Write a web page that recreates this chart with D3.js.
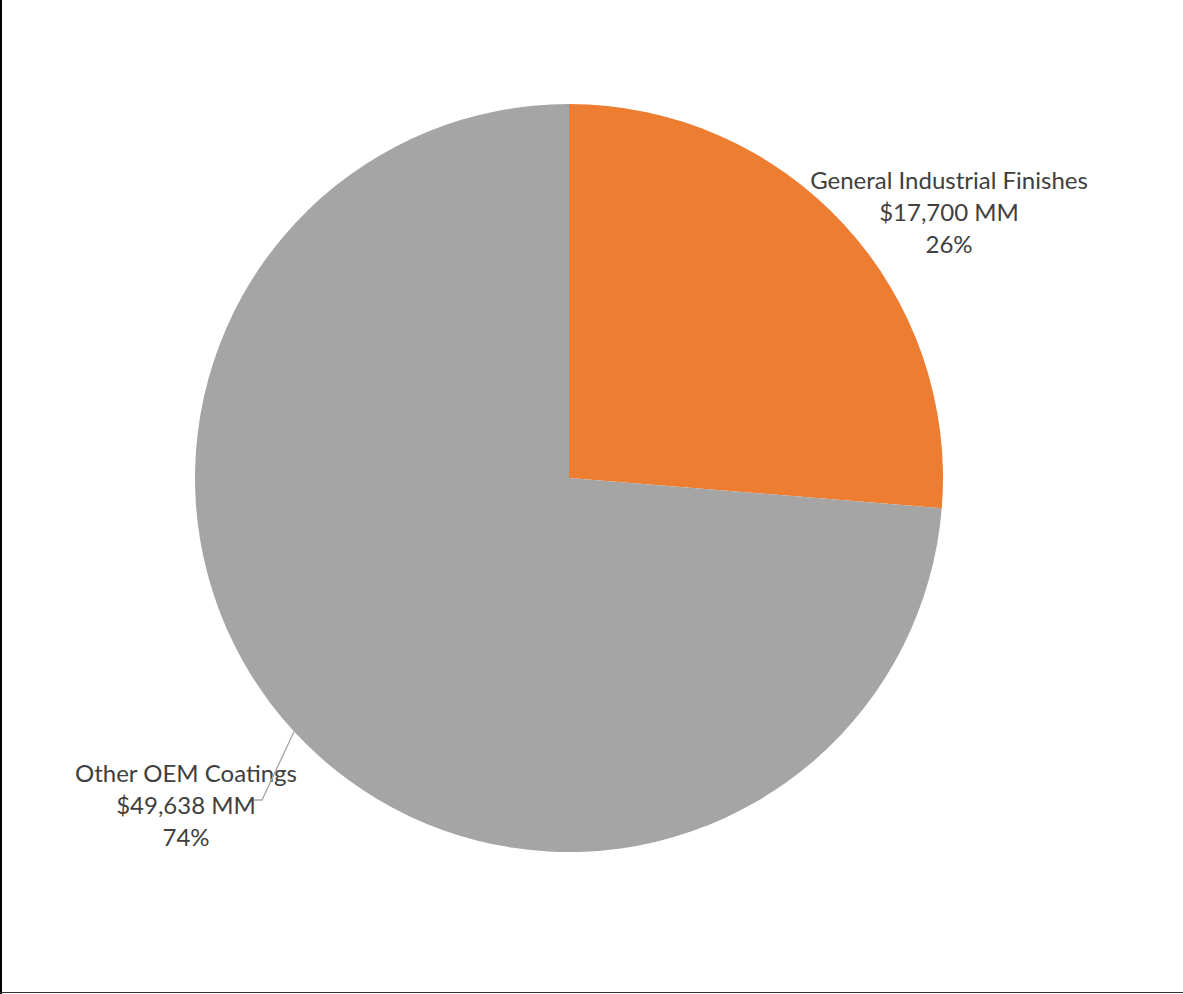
<!DOCTYPE html>
<html>
<head>
<meta charset="utf-8">
<script src="https://cdn.jsdelivr.net/npm/d3@7"></script>
<style>
  body { margin: 0; background: #fff; }
  svg text { font-family: Lato, "Open Sans", sans-serif; fill: #404040; }
</style>
</head>
<body>
<div id="chart"></div>
<script>
(function() {
	var categories = ["General Industrial Finishes", "Other OEM Coatings"];
	var values = [17700, 49638];
	var colors = ["#ed7d31", "#a5a5a5"];

	var width = 1183, height = 994;
	var cx = 569, cy = 478, radius = 374;

	var svg = d3.select("#chart")
		.append("svg")
		.attr("width", width)
		.attr("height", height);

	// frame (left and bottom edges visible)
	svg.append("line").attr("x1", 1).attr("x2", 1).attr("y1", 0).attr("y2", height)
		.attr("stroke", "#000").attr("stroke-width", 2);
	svg.append("line").attr("x1", 0).attr("x2", width).attr("y1", 992.5).attr("y2", 992.5)
		.attr("stroke", "#333").attr("stroke-width", 1);

	var data = categories.map(function(c, i) { return { name: c, value: values[i], color: colors[i] }; });
	var total = d3.sum(values);

	var pie = d3.pie().sort(null).value(function(d) { return d.value; });
	var arc = d3.arc().innerRadius(0).outerRadius(radius);

	var g = svg.append("g").attr("transform", "translate(" + cx + "," + cy + ")");

	var arcs = pie(data);

	g.selectAll("path")
		.data(arcs)
		.enter()
		.append("path")
		.attr("d", arc)
		.attr("fill", function(d) { return d.data.color; });

	var money = d3.format(",");
	var pct = d3.format(".0%");

	// label positions (relative to centre)
	var labelPos = [[380, -297], [-383, 296]];

	// leader line for the grey slice, from the slice's mid angle
	var a = arcs[1];
	var ang = (a.startAngle + a.endAngle) / 2;
	var edge = [Math.sin(ang) * radius, -Math.cos(ang) * radius];
	var elbow = [-307, 322];
	svg.append("path")
		.attr("transform", "translate(" + cx + "," + cy + ")")
		.attr("d", d3.line()([edge, elbow, [elbow[0] - 8, elbow[1]]]))
		.attr("fill", "none")
		.attr("stroke", "#a5a5a5")
		.attr("stroke-width", 1.3);

	arcs.forEach(function(d, i) {
		var t = g.append("text")
			.attr("text-anchor", "middle")
			.attr("font-size", 24)
			.attr("transform", "translate(" + labelPos[i][0] + "," + labelPos[i][1] + ")");
		var lines = [d.data.name, "$" + money(d.data.value) + " MM", pct(d.data.value / total)];
		lines.forEach(function(l, j) {
			t.append("tspan")
				.attr("x", 0)
				.attr("y", j * 32)
				.attr("dy", "0.35em")
				.text(l);
		});
	});
})();
</script>
</body>
</html>
